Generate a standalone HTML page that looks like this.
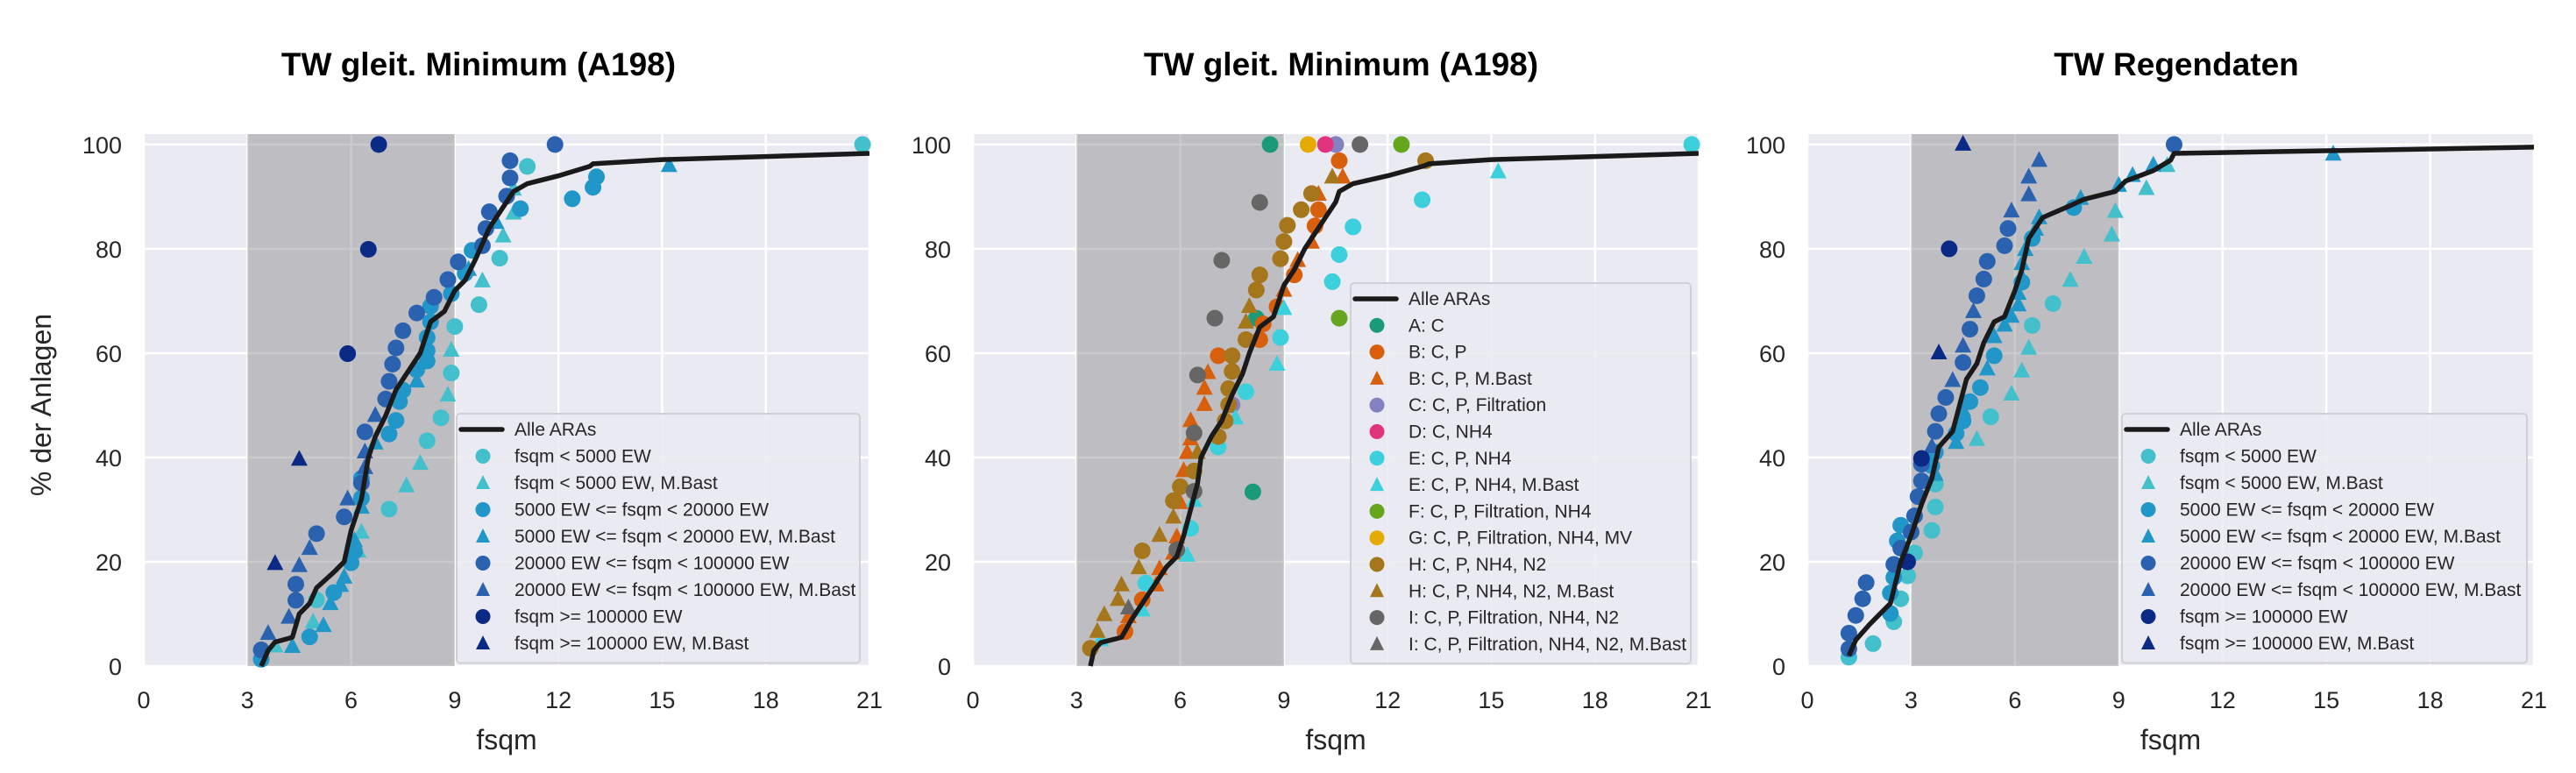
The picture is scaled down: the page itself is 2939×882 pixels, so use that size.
<!DOCTYPE html>
<html><head><meta charset="utf-8">
<style>
html,body{margin:0;padding:0;background:#fff;}
svg{display:block;font-family:"Liberation Sans",Arial,sans-serif;}
</style></head>
<body>
<svg id="fig" width="2939" height="882" viewBox="0 0 2939 882" xmlns="http://www.w3.org/2000/svg"></svg>
<script>
// ---------- shared axis config ----------
const xTicks = [0,3,6,9,12,15,18,21];
const yTicks = [0,20,40,60,80,100];
const shadeRange = [3,9];

// ---------- Panel 1 data ----------
const p1Line = [[3.4,0],[3.6,3],[3.8,4.6],[4.3,5.5],[4.5,10],[4.8,12],[5.0,15],[5.5,18],[5.8,20],[6.0,26],[6.3,32],[6.5,40],[6.7,44],[7.0,48],[7.3,53],[7.6,56],[8.0,60],[8.3,66],[8.7,68],[9.0,72],[9.3,74],[9.6,78],[10.0,84],[10.3,87],[10.7,91],[11.1,92.5],[12.0,94],[12.9,95.8],[13.0,96.3],[15.0,97.1],[21,98.3]];
const p1S1Circ = [[20.8,100],[11.1,95.8],[10.3,78.2],[9.7,69.3],[9.0,65.1],[8.9,56.2],[8.6,47.6],[8.2,43.2],[7.1,30.1],[5.0,12.7]];
const p1S1Tri = [[10.7,91.4],[10.7,86.8],[10.4,82.4],[9.8,73.8],[8.9,60.5],[8.8,51.9],[8.0,38.8],[7.6,34.5],[4.9,8.4],[3.8,3.8],[6.3,25.6],[6.2,22]];
const p1S2Circ = [[12.4,89.6],[13.0,91.8],[13.1,93.8],[10.9,87.7],[9.3,75.3],[9.5,79.7],[8.9,71.4],[8.3,69],[8.3,66],[8.2,63],[8.2,60.5],[8.2,58.5],[7.9,56.8],[7.5,52.9],[7.4,50.7],[7.3,47.1],[7.1,44.5],[6.3,32.2],[6.3,36],[6.0,19.8],[6.1,22],[5.5,14.1],[4.8,5.6],[3.4,1.3]];
const p1S2Tri = [[15.2,95.9],[6.3,30.4],[6.1,24],[5.8,17],[5.7,15.4],[5.4,11.9],[5.2,7.7],[4.3,3.7],[6.7,42.7],[7.9,54.6],[9.4,76],[10.2,85]];
const p1S3Circ = [[11.9,100],[10.6,96.9],[10.6,93.6],[10.5,90.1],[10.0,87.1],[9.9,83.9],[9.8,80.6],[9.1,77.5],[8.8,74.1],[8.4,70.7],[7.9,67.7],[7.5,64.3],[7.3,61.0],[7.2,57.9],[7.1,54.6],[7.0,51.2],[6.4,44.9],[6.3,35.1],[5.8,28.6],[5.0,25.4],[4.4,15.7],[4.4,12.6],[3.4,3.1]];
const p1S3Tri = [[6.4,41],[6.7,48],[5.9,32],[6.4,38],[4.8,22.5],[4.5,19.2],[4.2,9.3],[3.6,6.2]];
const p1S4Circ = [[6.8,100],[6.5,79.9],[5.9,59.9]];
const p1S4Tri = [[4.5,39.6],[3.8,19.6]];

// ---------- Panel 2 data ----------
const p2Line = [[3.4,0],[3.5,3],[3.7,4.5],[4.3,5.5],[4.6,9],[5.0,13],[5.3,16],[5.6,19],[5.9,21],[6.1,25],[6.3,30],[6.5,35],[6.6,40],[6.9,44],[7.2,47],[7.5,52],[7.8,56],[8.0,60],[8.3,65],[8.7,67],[9.0,73],[9.3,76],[9.6,80],[9.9,83],[10.3,87],[10.5,89],[10.6,91],[11.0,92.5],[12.0,94],[13.0,95.8],[13.2,96.3],[15.0,97.1],[21,98.3]];
const p2A = [[8.6,100],[8.1,33.4],[8.2,66.7]];
const p2BCirc = [[10.6,96.9],[10.0,87.5],[9.9,84.4],[9.3,75],[8.8,68.9],[8.4,65.6],[8.3,62.6],[7.1,59.5],[4.9,12.7],[4.4,6.6]];
const p2BTri = [[10.7,93.7],[10.0,90.4],[9.8,81.2],[9.4,77.7],[9.0,72],[6.8,56.2],[6.7,53.2],[6.7,50.1],[6.3,47],[6.3,43.5],[6.2,40.9],[6.1,37.4],[6.0,31.3],[5.9,24.7],[5.8,21.6],[5.4,18.6],[5.3,15.5],[4.5,9.4]];
const p2C = [[10.5,100],[7.5,50.1]];
const p2D = [[10.2,100]];
const p2ECirc = [[20.8,100],[13.0,89.4],[11.0,84.2],[10.6,78.9],[10.4,73.7],[8.9,63],[7.9,52.6],[7.1,42],[6.3,26.4],[5.0,15.9]];
const p2ETri = [[15.2,94.7],[9.0,68.5],[8.8,57.8],[7.6,47.5],[6.4,31.7],[6.2,21.2],[4.9,10.7],[3.7,5]];
const p2F = [[12.4,100],[10.6,66.7]];
const p2G = [[9.7,100]];
const p2HCirc = [[13.1,96.9],[9.8,90.6],[9.5,87.5],[9.1,84.5],[9.0,81.4],[8.9,78.1],[8.3,75],[8.2,72.1],[7.9,62.6],[7.5,59.5],[7.5,56.5],[7.4,53.2],[7.4,50.1],[7.3,47],[7.1,44],[6.4,37.4],[6.0,34.4],[5.8,31.7],[4.9,22.1],[3.4,3.4]];
const p2HTri = [[10.4,93.7],[8.0,68.9],[7.9,65.9],[6.5,40.9],[5.8,28.5],[5.4,25],[4.8,18.8],[4.3,15.5],[4.2,12.7],[3.8,9.8],[3.6,6.6]];
const p2ICirc = [[11.2,100],[8.3,88.9],[7.2,77.8],[7.0,66.7],[6.5,55.8],[6.4,44.7],[6.4,33.5],[5.9,22.3]];
const p2ITri = [[4.5,11.1]];

// ---------- Panel 3 data ----------
const p3Line = [[1.2,2],[1.4,5],[1.8,8],[2.1,10],[2.4,12],[2.7,20],[3.0,25],[3.3,31],[3.6,36],[3.8,42],[4.2,45],[4.4,50],[4.6,55],[4.9,58],[5.1,62],[5.4,66],[5.7,67],[6.0,72],[6.2,76],[6.4,82],[6.8,86],[7.5,88],[8.0,89.5],[8.9,91],[9.2,93],[10.0,95],[10.5,97],[10.6,98.3],[15,98.8],[21,99.5]];
const p3S1Circ = [[1.9,4.3],[1.2,1.7],[2.5,8.5],[2.7,12.9],[2.9,17.3],[3.1,21.7],[3.6,26],[3.7,30.5],[3.7,34.9],[5.3,47.8],[6.5,65.3],[7.1,69.5]];
const p3S1Tri = [[4.9,43.4],[5.9,52.1],[6.2,56.5],[6.4,60.9],[7.6,73.9],[8.0,78.3],[8.8,82.6],[8.9,87.1],[9.8,91.5],[10.4,95.9]];
const p3S2Circ = [[2.4,10.1],[2.4,14],[2.5,17],[2.6,24],[2.7,27],[3.6,38.4],[3.7,41],[4.3,44.6],[4.7,50.7],[5.0,53.4],[5.4,59.5],[6.2,73.6],[6.5,82],[7.7,87.9],[4.5,47]];
const p3S2Tri = [[15.2,98.1],[10.0,96],[9.4,94],[9.0,92.1],[7.9,89.6],[6.7,85.9],[6.6,83.7],[6.3,79.8],[6.2,77.1],[6.2,74.5],[6.1,71.4],[6.1,69.2],[5.9,67],[5.7,65.3],[5.4,63.1],[5.2,56.9],[4.5,49],[4.3,42.8],[3.7,36.7]];
const p3S3Circ = [[10.6,100],[5.8,83.9],[5.7,80.6],[5.2,77.6],[5.1,74.2],[4.9,71],[4.7,64.6],[4.5,58.2],[4.0,51.5],[3.8,48.4],[3.7,45],[3.3,38.7],[3.3,35.5],[3.2,32.5],[3.1,28.8],[3.0,25.7],[2.7,22.6],[2.5,19.5],[1.7,16],[1.6,12.9],[1.4,9.7],[1.2,6.3],[1.2,3.3]];
const p3S3Tri = [[6.7,96.9],[6.4,93.7],[6.4,90.3],[5.9,87.2],[4.8,67.9],[4.5,61.3],[4.2,54.7],[3.6,42]];
const p3S4Circ = [[4.1,80],[3.3,39.8],[2.9,20]];
const p3S4Tri = [[4.5,100],[3.8,60]];

// ---------- legend labels ----------
const sizeLabels = ["Alle ARAs","fsqm < 5000 EW","fsqm < 5000 EW, M.Bast","5000 EW <= fsqm < 20000 EW","5000 EW <= fsqm < 20000 EW, M.Bast","20000 EW <= fsqm < 100000 EW","20000 EW <= fsqm < 100000 EW, M.Bast","fsqm >= 100000 EW","fsqm >= 100000 EW, M.Bast"];
const typeLabels = ["Alle ARAs","A: C","B: C, P","B: C, P, M.Bast","C: C, P, Filtration","D: C, NH4","E: C, P, NH4","E: C, P, NH4, M.Bast","F: C, P, Filtration, NH4","G: C, P, Filtration, NH4, MV","H: C, P, NH4, N2","H: C, P, NH4, N2, M.Bast","I: C, P, Filtration, NH4, N2","I: C, P, Filtration, NH4, N2, M.Bast"];

const C1="#44bfcc",C2="#2196c9",C3="#2a62b0",C4="#0b2a85";
const CA="#1a9a78",CB="#d85f0b",CC="#8481c0",CD="#e2337f",CE="#3ccfdc",CF="#66a61e",CG="#e6ab02",CH="#a6761d",CI="#666666";

const NS="http://www.w3.org/2000/svg";
const svg=document.getElementById('fig');
function mk(tag,attrs,parent){const e=document.createElementNS(NS,tag);for(const k in attrs)e.setAttribute(k,attrs[k]);(parent||svg).appendChild(e);return e;}

function panel(cfg){
  const g=mk('g',{});
  
  
  const L=cfg.x0,R=cfg.x1,T=153,B=760;
  const sx=v=>L+(v/21)*(R-L);
  const sy=v=>B-(v/102)*(B-T);
  const bg=mk('rect',{x:L,y:T,width:R-L,height:B-T,fill:'#eaeaf2'},g);
  
  
  xTicks.forEach(t=>{
    const l=mk('line',{x1:sx(t),x2:sx(t),y1:T,y2:B,stroke:'#fff','stroke-width':2.5},g);
    
    
    const tx=mk('text',{x:sx(t),y:808,'font-size':27,'text-anchor':'middle',fill:'#262626'},g);
    tx.textContent=t;
    
    
  });
  yTicks.forEach(t=>{
    const l=mk('line',{x1:L,x2:R,y1:sy(t),y2:sy(t),stroke:'#fff','stroke-width':2.5},g);
    
    
    const tx=mk('text',{x:L-25,y:sy(t)+10,'font-size':27,'text-anchor':'end',fill:'#262626'},g);
    tx.textContent=t;
    
    
  });
  const sh=mk('rect',{x:sx(shadeRange[0]),y:T,width:sx(shadeRange[1])-sx(shadeRange[0]),height:B-T,fill:'#808080','fill-opacity':0.42},g);
  
  
  const cp='clip'+cfg.name;
  const clip=mk('clipPath',{id:cp},g);mk('rect',{x:L,y:T-15,width:R-L,height:B-T+30},clip);
  const pts=g; 
  cfg.series.forEach(s=>{
    s.data.forEach(p=>{
      let m;
      if(s.shape==='o'){m=mk('circle',{cx:sx(p[0]),cy:sy(p[1]),r:9.5,fill:s.color},pts);}
      else{const x=sx(p[0]),y=sy(p[1]);m=mk('polygon',{points:`${x},${y-11} ${x+9.5},${y+7} ${x-9.5},${y+7}`,fill:s.color},pts);}
      
      
    });
  });
  const ln=mk('polyline',{points:cfg.line.map(p=>sx(p[0])+','+sy(p[1])).join(' '),fill:'none',stroke:'#1a1a1a','stroke-width':5.5,'stroke-linejoin':'round','clip-path':`url(#${cp})`},g);
  
  
  // title
  const ti=mk('text',{x:cfg.tx,y:86,'font-size':37,'font-weight':'bold','text-anchor':'middle',fill:'#000'},g);
  ti.textContent=cfg.title;
  
  
  const xl=mk('text',{x:(L+R)/2,y:855,'font-size':32,'text-anchor':'middle',fill:'#262626'},g);
  xl.textContent='fsqm';
  
  
  // legend
  const lg=mk('g',{},g);
  
  
  const lb=mk('rect',{x:cfg.lx,y:cfg.ly,width:cfg.lw,height:cfg.labels.length*cfg.ls+10,rx:4,fill:'#eaeaf2','fill-opacity':0.85,stroke:'#d0d0d8','stroke-width':2},lg);
  
  
  cfg.labels.forEach((lab,i)=>{
    const cy=cfg.ly+15+i*cfg.ls+3;
    const ent=mk('g',{},lg);
    
    
    if(i===0){mk('line',{x1:cfg.lx+5,x2:cfg.lx+52,y1:cy,y2:cy,stroke:'#1a1a1a','stroke-width':5.5,'stroke-linecap':'round'},ent);}
    else{const s=cfg.series[i-1];const mx=cfg.lx+30;
      if(s.shape==='o')mk('circle',{cx:mx,cy:cy,r:8.5,fill:s.color},ent);
      else mk('polygon',{points:`${mx},${cy-9} ${mx+8},${cy+7} ${mx-8},${cy+7}`,fill:s.color},ent);}
    const t=mk('text',{x:cfg.lx+66,y:cy+7,'font-size':21,fill:'#262626'},ent);
    t.textContent=lab;
  });
}

panel({name:'panel-1',x0:164,x1:992,tx:546,title:'TW gleit. Minimum (A198)',line:p1Line,
  series:[{key:'lt5000',shape:'o',color:C1,data:p1S1Circ},{key:'lt5000-mbast',shape:'t',color:C1,data:p1S1Tri},
  {key:'5000-20000',shape:'o',color:C2,data:p1S2Circ},{key:'5000-20000-mbast',shape:'t',color:C2,data:p1S2Tri},
  {key:'20000-100000',shape:'o',color:C3,data:p1S3Circ},{key:'20000-100000-mbast',shape:'t',color:C3,data:p1S3Tri},
  {key:'ge100000',shape:'o',color:C4,data:p1S4Circ},{key:'ge100000-mbast',shape:'t',color:C4,data:p1S4Tri}],
  labels:sizeLabels,lx:521,ly:472,lw:460,ls:30.5});

panel({name:'panel-2',x0:1110,x1:1938,tx:1530,title:'TW gleit. Minimum (A198)',line:p2Line,
  series:[{key:'a',shape:'o',color:CA,data:p2A},{key:'b',shape:'o',color:CB,data:p2BCirc},{key:'b-mbast',shape:'t',color:CB,data:p2BTri},
  {key:'c',shape:'o',color:CC,data:p2C},{key:'d',shape:'o',color:CD,data:p2D},{key:'e',shape:'o',color:CE,data:p2ECirc},{key:'e-mbast',shape:'t',color:CE,data:p2ETri},
  {key:'f',shape:'o',color:CF,data:p2F},{key:'g',shape:'o',color:CG,data:p2G},{key:'h',shape:'o',color:CH,data:p2HCirc},{key:'h-mbast',shape:'t',color:CH,data:p2HTri},
  {key:'i',shape:'o',color:CI,data:p2ICirc},{key:'i-mbast',shape:'t',color:CI,data:p2ITri}],
  labels:typeLabels,lx:1541,ly:323,lw:388,ls:30.3});

panel({name:'panel-3',x0:2062,x1:2891,tx:2483,title:'TW Regendaten',line:p3Line,
  series:[{key:'lt5000',shape:'o',color:C1,data:p3S1Circ},{key:'lt5000-mbast',shape:'t',color:C1,data:p3S1Tri},
  {key:'5000-20000',shape:'o',color:C2,data:p3S2Circ},{key:'5000-20000-mbast',shape:'t',color:C2,data:p3S2Tri},
  {key:'20000-100000',shape:'o',color:C3,data:p3S3Circ},{key:'20000-100000-mbast',shape:'t',color:C3,data:p3S3Tri},
  {key:'ge100000',shape:'o',color:C4,data:p3S4Circ},{key:'ge100000-mbast',shape:'t',color:C4,data:p3S4Tri}],
  labels:sizeLabels,lx:2421,ly:472,lw:462,ls:30.5});

const yl=mk('text',{x:0,y:0,'font-size':32,'text-anchor':'middle',fill:'#262626',transform:'translate(58,462) rotate(-90)'});
yl.textContent='% der Anlagen';


</script>
</body></html>
